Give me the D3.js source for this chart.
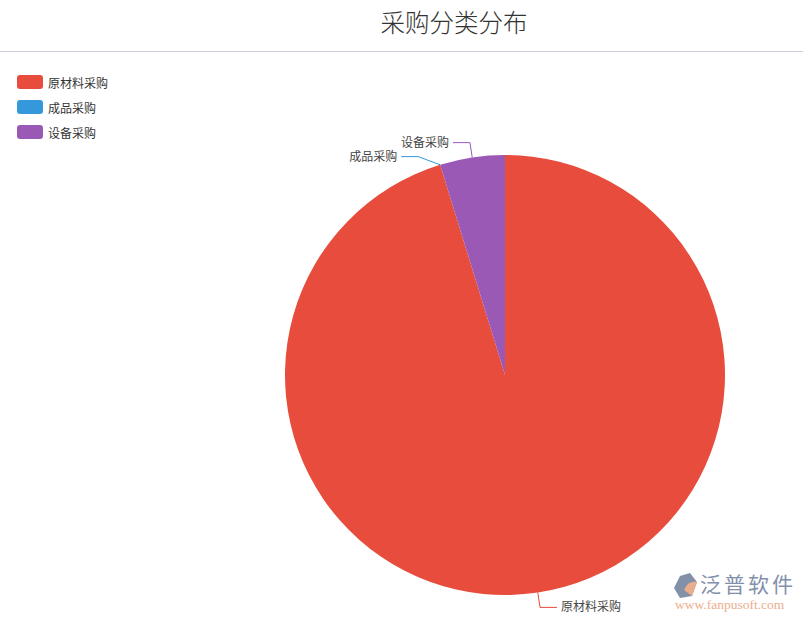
<!DOCTYPE html>
<html><head><meta charset="utf-8">
<script src="https://cdn.jsdelivr.net/npm/d3@7"></script>
<style>body{margin:0;background:#fff;}svg{display:block;font-family:"Noto Sans CJK SC","Noto Sans",sans-serif;}</style>
</head><body>
<svg id="c" width="803" height="619"></svg>
<script>
const title = "采购分类分布";
const categories = ["原材料采购", "成品采购", "设备采购"];
const values = [20, 0, 1];
const colors = ["#e74c3c", "#3498db", "#9b59b6"];

const svg = d3.select("#c");
const W = 803;

svg.append("text").attr("x", 454).attr("y", 32).attr("text-anchor", "middle")
  .attr("font-size", 24.5).attr("font-weight", 300).attr("fill", "#333").text(title);
svg.append("line").attr("x1", 0).attr("x2", W).attr("y1", 51.5).attr("y2", 51.5)
  .attr("stroke", "#ccd0d8").attr("stroke-width", 1);

// legend
const lg = svg.append("g").attr("transform", "translate(17,75)");
categories.forEach((c, i) => {
  const g = lg.append("g").attr("transform", `translate(0,${i * 25})`);
  g.append("rect").attr("width", 26).attr("height", 14).attr("rx", 3).attr("fill", colors[i]);
  g.append("text").attr("x", 31).attr("y", 7).attr("dominant-baseline", "central")
    .attr("font-size", 12).attr("fill", "#333").text(c);
});

// pie
const cx = 505, cy = 375, r = 220;
const data = categories.map((c, i) => ({name: c, value: values[i], color: colors[i]}));
const pie = d3.pie().value(d => d.value).sort(null);
const arcs = pie(data);
const arc = d3.arc().innerRadius(0).outerRadius(r);
const pg = svg.append("g").attr("transform", `translate(${cx},${cy})`);
pg.selectAll("path").data(arcs).join("path").attr("d", arc).attr("fill", d => d.data.color);

// labels
const len1 = 15, len2 = 17, gap = 4, R1 = r + len1;
const labels = arcs.map(a => {
  const m = (a.startAngle + a.endAngle) / 2;
  const s = Math.sin(m), c = -Math.cos(m);
  return {a, right: s >= 0, p0: [r * s, r * c], y: R1 * c, x: R1 * s};
});
// avoid overlap per side (push downward)
[true, false].forEach(side => {
  const L = labels.filter(l => l.right === side).sort((p, q) => p.y - q.y);
  for (let i = 1; i < L.length; i++) {
    if (L[i].y - L[i - 1].y < 14) {
      L[i].y = L[i - 1].y + 14;
      const dx = Math.sqrt(Math.max(0, R1 * R1 - L[i].y * L[i].y));
      L[i].x = side ? dx : -dx;
    }
  }
});
labels.forEach(l => {
  const dir = l.right ? 1 : -1;
  const p2 = [l.x + dir * len2, l.y];
  pg.append("polyline")
    .attr("points", [l.p0, [l.x, l.y], p2].map(p => p.join(",")).join(" "))
    .attr("fill", "none").attr("stroke", l.a.data.color).attr("stroke-width", 1);
  pg.append("text").attr("x", p2[0] + dir * gap).attr("y", p2[1] - 1.5)
    .attr("dominant-baseline", "central").attr("text-anchor", l.right ? "start" : "end")
    .attr("font-size", 12).attr("fill", "#444").text(l.a.data.name);
});

// watermark
const wm = svg.append("g").attr("opacity", 0.85);
wm.append("path").attr("d", "M680,576 L690,573 L697,582 L692,596 L680,598 L674,588 Z").attr("fill", "#6d7d9c");
wm.append("path").attr("d", "M684,590 Q688,580 697,582 L692,596 Z").attr("fill", "#e8a07a");
wm.append("text").attr("x", 700).attr("y", 592).attr("font-size", 21).attr("fill", "#6d7d9c")
  .attr("letter-spacing", 3).text("泛普软件");
wm.append("text").attr("x", 675).attr("y", 609).attr("font-size", 13.5)
  .attr("font-family", "Liberation Serif, serif").attr("fill", "#e8a07a").text("www.fanpusoft.com");
</script>
</body></html>
